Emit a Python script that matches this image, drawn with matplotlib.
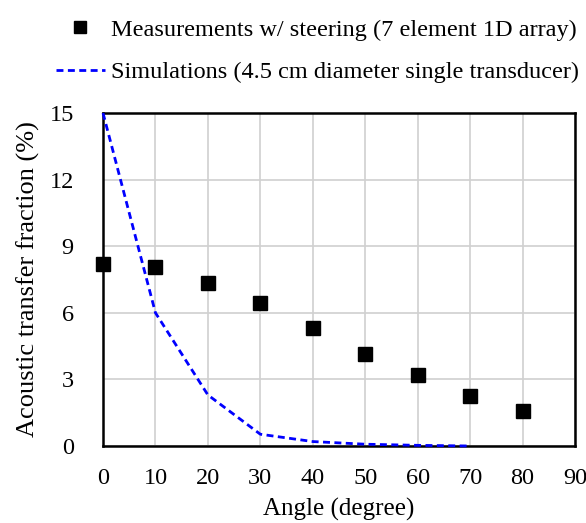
import matplotlib.pyplot as plt
from matplotlib.lines import Line2D

plt.rcParams["font.family"] = ["Liberation Serif", "DejaVu Serif"]

# measurements with steering (7 element 1D array)
meas_angle = [0, 10, 20, 30, 40, 50, 60, 70, 80]
meas_frac = [8.2, 8.06, 7.34, 6.44, 5.31, 4.14, 3.2, 2.25, 1.58]

# simulations (4.5 cm single transducer)
sim_angle = [0, 10, 20, 30, 40, 50, 60, 70]
sim_frac = [15.0, 6.0, 2.3, 0.53, 0.2, 0.08, 0.03, 0.0]

x_ticks = [0, 10, 20, 30, 40, 50, 60, 70, 80, 90]
y_ticks = [0, 3, 6, 9, 12, 15]

fig = plt.figure(figsize=(5.86, 5.23), dpi=100)
ax = fig.add_axes([103 / 586, 77 / 523, 472 / 586, 333 / 523])

ax.plot(sim_angle, sim_frac, linestyle="--", color="#0000ff", lw=2.0,
        dashes=(2.5, 1.6), zorder=3, clip_on=False)
ax.plot(meas_angle, meas_frac, linestyle="none", marker="s", ms=9.5,
        color="black", zorder=4, clip_on=False)

ax.set_xlim(0, 90)
ax.set_ylim(0, 15)
ax.set_xticks(x_ticks)
ax.set_yticks(y_ticks)
ax.grid(True, color="#d0d0d0", lw=1.2)
ax.set_axisbelow(True)
for s in ax.spines.values():
    s.set_linewidth(1.8)
    s.set_color("black")
ax.tick_params(length=0, labelsize=17.5)
ax.tick_params(axis="x", pad=16)
ax.tick_params(axis="y", pad=21)
ax.set_xlabel("Angle (degree)", fontsize=18, labelpad=6)
ax.set_ylabel("Acoustic transfer fraction (%)", fontsize=19, labelpad=7)

handles = [
    Line2D([], [], linestyle="none", marker="s", ms=9, color="black"),
    Line2D([], [], linestyle="--", color="#0000ff", lw=2.0, dashes=(2.5, 1.6)),
]
labels = [
    "Measurements w/ steering (7 element 1D array)",
    "Simulations (4.5 cm diameter single transducer)",
]
fig.legend(handles, labels, loc="upper right", bbox_to_anchor=(1.004, 0.983),
           frameon=False, fontsize=17.5, labelspacing=0.85, handlelength=2.0,
           handletextpad=0.25, borderaxespad=0.0)

fig.savefig("out.png", dpi=100)
